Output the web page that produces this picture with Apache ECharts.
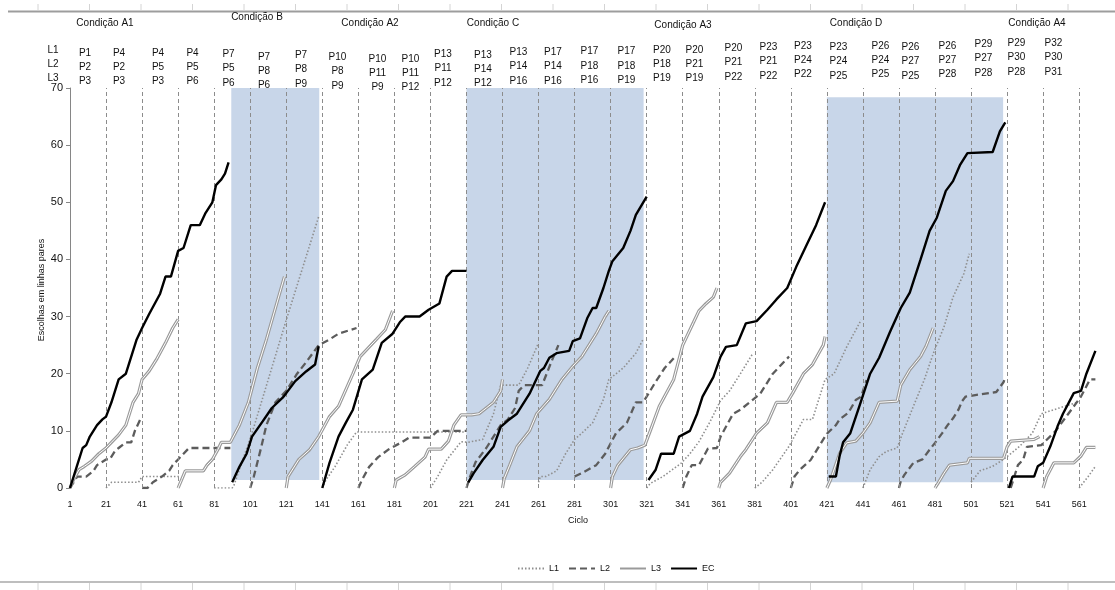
<!DOCTYPE html>
<html><head><meta charset="utf-8">
<script src="https://cdn.jsdelivr.net/npm/echarts@6/dist/echarts.min.js"></script>
<style>html,body{margin:0;padding:0;background:#fff}#c{width:1115px;height:590px}</style>
</head><body><div id="c"></div>
<script>
// ---------------- DATA ----------------
const lastCycle = 572;
const cycleTickStep = 20;
const yMax = 70, yStep = 10;

// each series: list of segments, each segment [cycle, cumulative value]
const L1 = [
 [[21,0],[24,1],[39,1],[41,2],[62,2]],
 [[81,0],[91,0],[92,0.5],[102,9.6],[121,29.4],[139,47.5]],
 [[141,0],[143,1.4],[148,3.7],[155,7.6],[160,9.8],[220,9.8]],
 [[201,0],[205,2],[210,4.9],[218,8.1],[222,8],[230,8.5],[236,13],[240,18],[250,18],[255,21],[261,25.4]],
 [[261,1],[262,2],[265,2],[271,3],[276,6],[281,8.5],[285,9.6],[291,11.4],[297,15.5],[300,19],[308,21],[315,23.6],[319,26]],
 [[321,0],[323,0.8],[330,2],[340,4.3],[345,6],[350,8.1],[356,11.5],[362,15.3],[367,17],[373,20],[380,23.6]],
 [[381,0],[385,1],[391,3.2],[400,7.3],[408,12],[413,12],[420,19],[425,20],[432,24.7],[440,29.4]],
 [[441,0],[445,3.2],[450,5.5],[454,6.4],[460,7],[463,9.6],[469,14.3],[475,18.9],[480,23.5],[486,28.2],[491,33.4],[497,37.5],[500,41]],
 [[501,1],[506,3],[513,3.8],[519,5],[523,6],[528,7.3],[535,9.6],[540,13],[550,14],[560,15]],
 [[561,0],[566,2],[570,3.8]]
];
const L2 = [
 [[1,0],[3,1],[5,2],[10,2],[14,3],[16,4],[21,5],[23,5],[26,6.5],[28,7],[32,8],[35,8],[37,10],[40,12]],
 [[41,0],[44,0],[47,1],[52,2],[56,3],[58,4],[61,5],[64,6],[67,7],[90,7]],
 [[101,0],[103,2],[107,7],[110,11],[115,15],[121,17],[127,20],[132,22],[139,25],[145,26],[150,27],[160,28]],
 [[161,0],[163,1.4],[167,3.7],[172,5.4],[178,6.8],[185,8],[189,8.8],[201,8.8],[205,10],[221,10]],
 [[221,0],[223,2],[226,4.5],[232,7],[236,9],[240,11],[244,12],[248,14],[250,17],[253,18],[263,18],[268,22],[272,25]],
 [[281,2],[285,2.6],[290,3.5],[293,4],[298,6],[304,9.6],[310,11.4],[315,15],[319,15],[322,16.5],[326,18.6],[331,21],[336,22.7]],
 [[341,0],[343,2],[346,4],[350,4],[355,6.9],[360,7],[362,9],[369,13],[373,13.7],[379,15.2],[384,16.5],[388,18.5],[391,20],[397,22],[400,23]],
 [[401,0],[403,2],[406,3.2],[412,4.9],[418,8],[421,9.5],[426,11],[428,12],[433,13.2],[437,15.4],[440,16],[443,18.9]],
 [[461,0],[462,1.2],[464,2.3],[469,4.4],[474,5],[478,6.7],[481,7.9],[485,9.6],[488,11],[491,12.2],[494,13.7],[496,15.2],[498,16],[515,16.8],[519,18.5],[520,19.4]],
 [[523,0],[527,4],[530,5],[532,7.2],[540,7.5],[548,10],[555,13],[562,16],[567,19],[570,19]]
];
const L3 = [
 [[1,0],[3,1.5],[6,3.2],[9,3.8],[13,4.7],[17,6],[21,7],[24,8],[28,9.3],[32,11],[36,15],[39,16.5],[41,19],[45,20.5],[49,22.5],[54,25.4],[58,28],[61,29.5]],
 [[61,0],[63,1.5],[65,3],[75,3],[77,4],[80,5],[83,6.7],[85,8],[90,8],[95,11],[100,15],[105,21],[110,26],[120,37]],
 [[121,0],[122,2],[128,5],[134,6.7],[139,9],[145,12.5],[150,14.3],[158,20],[162,23],[171,26],[176,27.7],[180,31]],
 [[181,0],[182,1.4],[187,2.3],[192,3.7],[198,5.4],[200,6.8],[207,6.8],[211,8.2],[214,11],[218,12.8],[224,12.8],[228,13],[232,14],[236,15],[240,17],[241,19]],
 [[241,0],[242,1.7],[245,4],[249,7.2],[256,10],[260,13],[267,15.5],[274,19],[280,21.3],[285,23],[293,27],[298,30],[300,31]],
 [[301,0],[302,2],[305,4],[312,6.7],[316,7],[320,7.5],[323,10],[328,14.3],[336,19],[341,25],[347,29],[350,31],[354,32.3],[358,33.4],[360,35]],
 [[361,0],[362,1],[367,2.6],[373,5.5],[376,6.7],[382,9.6],[388,11.4],[393,15],[399,15],[402,16.6],[408,20],[413,21.6],[419,25],[420,26.5]],
 [[421,0],[423,1.4],[428,6],[432,7.9],[437,8.2],[441,9.6],[445,11.4],[450,15],[460,15.2],[462,18],[467,20.7],[473,23],[476,24.8],[480,28]],
 [[481,0],[483,1],[486,2.6],[489,4],[499,4.4],[500,5.2],[519,5.2],[521,7.2],[523,8.2],[536,8.5],[539,9]],
 [[541,0],[543,2],[547,4.4],[558,4.4],[562,5.6],[565,7.1],[570,7.1]]
];
const EC = [
 [[1,0],[3,2],[5,4],[8,7],[10,7.5],[12,9],[16,11],[19,12],[21,12.5],[24,15],[28,19],[32,20],[38,26],[41,28],[45,30.5],[51,34],[54,37],[57,37],[61,41.5],[64,42],[68,46],[73,46],[76,48],[80,50],[82,53],[85,54],[87,55],[89,57]],
 [[91,1],[95,3.7],[99,6],[102,9],[108,11.7],[113,14],[119,15.8],[121,16.6],[126,18.7],[132,20.4],[137,21.6],[139,24.8]],
 [[141,0],[145,4.4],[150,9],[154,11.4],[158,13.7],[163,19],[169,20.7],[174,25.4],[180,27],[184,29],[187,30],[195,30],[200,31.2],[206,32.3],[210,37],[213,38],[221,38]],
 [[222,1],[225,2.6],[230,4.9],[236,7.2],[240,10.7],[244,11.8],[249,13],[256,16.5],[262,20.5],[264,21],[267,22.8],[271,23.6],[278,24],[280,25.7],[284,26.2],[288,29.7],[291,31.5],[293,31.5],[297,35],[300,38],[302,39.7],[308,42],[312,45],[315,47.8],[321,51]],
 [[322,1.4],[326,3.2],[329,6],[336,6],[339,9],[345,10],[349,13],[352,16],[358,19.4],[362,23],[365,24.7],[371,25],[376,28.8],[382,29.2],[388,31.2],[393,33],[399,35],[404,38.7],[410,42.7],[415,46],[420,50]],
 [[422,2],[426,2],[428,5.5],[430,8],[434,9.6],[439,14.3],[445,20],[450,22.8],[456,27.3],[462,31.5],[467,34.2],[473,40],[478,45],[482,47.3],[487,52],[491,53.7],[495,56.6],[499,58.6],[513,58.8],[517,62.4],[520,64]],
 [[522,0],[524,2],[536,2],[538,3.8],[541,4.4],[545,7.3],[549,10.8],[552,13],[558,16.6],[562,17],[565,20],[570,24]]
];
// shaded experimental conditions: [fromCycle, toCycle, bottomValue, topValue]
const shadeB = [90.5, 139.3, 1.4, 70];
const shadeC = [221, 319.3, 1.4, 70];
const shadeD = [421, 518.8, 1, 68.4];

const seriesNames = ['L1', 'L2', 'L3', 'EC'];
const conditionNames = ['Condição A1','Condição B','Condição A2','Condição C','Condição A3','Condição D','Condição A4'];
const rowNames = ['L1','L2','L3'];
const generations = [['P1','P2','P3'],['P4','P2','P3'],['P4','P5','P3'],['P4','P5','P6'],['P7','P5','P6'],['P7','P8','P6'],['P7','P8','P9'],['P10','P8','P9'],['P10','P11','P9'],['P10','P11','P12'],['P13','P11','P12'],['P13','P14','P12'],['P13','P14','P16'],['P17','P14','P16'],['P17','P18','P16'],['P17','P18','P19'],['P20','P18','P19'],['P20','P21','P19'],['P20','P21','P22'],['P23','P21','P22'],['P23','P24','P22'],['P23','P24','P25'],['P26','P24','P25'],['P26','P27','P25'],['P26','P27','P28'],['P29','P27','P28'],['P29','P30','P28'],['P32','P30','P31']];
const yAxisTitle = 'Escolhas em linhas pares';
const xAxisTitle = 'Ciclo';

// ---------------- LAYOUT ----------------
const conditionLabelPos = [[105,23],[257,17.5],[370,23],[493,23],[683,25],[856,23],[1037,23]];
const rowNamePos = [[53,50],[53,64],[53,78]];
const genLabelPos = [[85,53],[119,53],[158,53],[192.5,53],[228.5,54.5],[264,57],[301,55.5],[337.5,57.5],[377.5,59],[410.5,59],[443,54.5],[483,55],[518.5,52.5],[553,52.5],[589.5,51.7],[626.5,51.7],[662,50],[694.5,50],[733.5,48.5],[768.5,47.5],[803,46],[838.5,47.5],[880.5,46],[910.5,47.5],[947.5,46],[983.5,44.5],[1016.5,43.5],[1053.5,43.5]];
const rowGap = 14.2;
const FONT = 'Liberation Sans';

function toSeriesData(segs) {
  const out = [];
  segs.forEach((seg, i) => {
    if (i > 0) out.push([seg[0][0] - 1, null]);
    seg.forEach(p => out.push([p[0] - 1, p[1]]));
  });
  return out;
}
function shadeArea(s) {
  return [{ coord: [s[0] - 1, s[2]] }, { coord: [s[1] - 1, s[3]] }];
}

const graphics = [];
function txt(x, y, t, size) {
  graphics.push({ type: 'text', x: x, y: y, silent: true, z: 10,
    style: { text: t, fill: '#111', font: size + 'px "' + FONT + '"', textAlign: 'center', textVerticalAlign: 'middle' } });
}
conditionNames.forEach((n, i) => txt(conditionLabelPos[i][0], conditionLabelPos[i][1], n, 10));
rowNames.forEach((n, i) => txt(rowNamePos[i][0], rowNamePos[i][1], n, 10));
generations.forEach((g, i) => g.forEach((p, r) => txt(genLabelPos[i][0], genLabelPos[i][1] + r * rowGap, p, 10)));
txt(578, 521, xAxisTitle, 9);
graphics.push({ type: 'text', x: 42, y: 290, rotation: Math.PI / 2, silent: true,
  style: { text: yAxisTitle, fill: '#111', font: '9px "' + FONT + '"', textAlign: 'center', textVerticalAlign: 'middle' } });
// frame lines
graphics.push({ type: 'line', silent: true, z: 1, shape: { x1: 8, y1: 11.5, x2: 1115, y2: 11.5 }, style: { stroke: '#9d9d9d', lineWidth: 2 } });
graphics.push({ type: 'line', silent: true, z: 1, shape: { x1: 0, y1: 582, x2: 1115, y2: 582 }, style: { stroke: '#a8a8a8', lineWidth: 1.5 } });
for (let x = 38; x < 1115; x += 51.5) {
  graphics.push({ type: 'line', silent: true, z: 1, shape: { x1: x, y1: 4, x2: x, y2: 10 }, style: { stroke: '#d4d4d4', lineWidth: 1 } });
  graphics.push({ type: 'line', silent: true, z: 1, shape: { x1: x, y1: 583, x2: x, y2: 590 }, style: { stroke: '#d4d4d4', lineWidth: 1 } });
}

const gridTicks = [];
for (let v = cycleTickStep; v < lastCycle - 1; v += cycleTickStep) gridTicks.push({ xAxis: v });

const lineBase = { type: 'line', symbol: 'none', showSymbol: false, connectNulls: false, animation: false, silent: true };

const option = {
  animation: false,
  backgroundColor: '#fff',
  grid: { left: 70, right: 16, top: 88, bottom: 102, containLabel: false },
  xAxis: {
    type: 'value', min: 0, max: lastCycle - 1, interval: cycleTickStep,
    axisLine: { show: false }, axisTick: { show: false }, splitLine: { show: false },
    axisLabel: { margin: 12, fontSize: 9, color: '#111', fontFamily: FONT,
      formatter: v => (v % cycleTickStep === 0 && v < lastCycle - 5 ? String(v + 1) : '') }
  },
  yAxis: {
    type: 'value', min: 0, max: yMax, interval: yStep,
    axisLine: { show: true, lineStyle: { color: '#868686', width: 1 } },
    axisTick: { show: true, length: 4, lineStyle: { color: '#868686' } },
    splitLine: { show: false },
    axisLabel: { margin: 7, fontSize: 11, color: '#111', fontFamily: FONT }
  },
  legend: {
    data: seriesNames, left: 512, top: 559, itemWidth: 26, itemHeight: 10, itemGap: 9,
    itemStyle: { opacity: 0 },
    textStyle: { fontSize: 9, color: '#111', fontFamily: FONT }
  },
  graphic: graphics,
  series: [
    Object.assign({}, lineBase, { name: 'shade', z: 1, data: [[0, null]],
      markArea: { silent: true, itemStyle: { color: '#c8d6e9' }, data: [shadeArea(shadeB), shadeArea(shadeC), shadeArea(shadeD)] } }),
    Object.assign({}, lineBase, { name: 'grid', z: 2, data: [[0, null]],
      markLine: { silent: true, symbol: 'none', label: { show: false },
        lineStyle: { color: '#8c8c8c', width: 1, type: [4, 3] }, data: gridTicks } }),
    Object.assign({}, lineBase, { name: 'L1', z: 3, data: toSeriesData(L1), itemStyle: { color: '#8f8f8f' },
      lineStyle: { color: '#8f8f8f', width: 1.6, type: [1.5, 2] } }),
    Object.assign({}, lineBase, { name: 'L2', z: 4, data: toSeriesData(L2), itemStyle: { color: '#5c5c5c' },
      lineStyle: { color: '#5c5c5c', width: 2.3, type: [7, 4] } }),
    Object.assign({}, lineBase, { name: 'L3', z: 5, data: toSeriesData(L3), itemStyle: { color: '#9a9a9a' },
      lineStyle: { color: '#9a9a9a', width: 3.2 } }),
    Object.assign({}, lineBase, { name: 'L3core', z: 6, data: toSeriesData(L3),
      lineStyle: { color: '#ffffff', width: 1 } }),
    Object.assign({}, lineBase, { name: 'EC', z: 7, data: toSeriesData(EC), itemStyle: { color: '#000' },
      lineStyle: { color: '#000', width: 2.4 } })
  ]
};
const chart = echarts.init(document.getElementById('c'), null, { renderer: 'canvas' });
chart.setOption(option);
</script>
</body></html>
